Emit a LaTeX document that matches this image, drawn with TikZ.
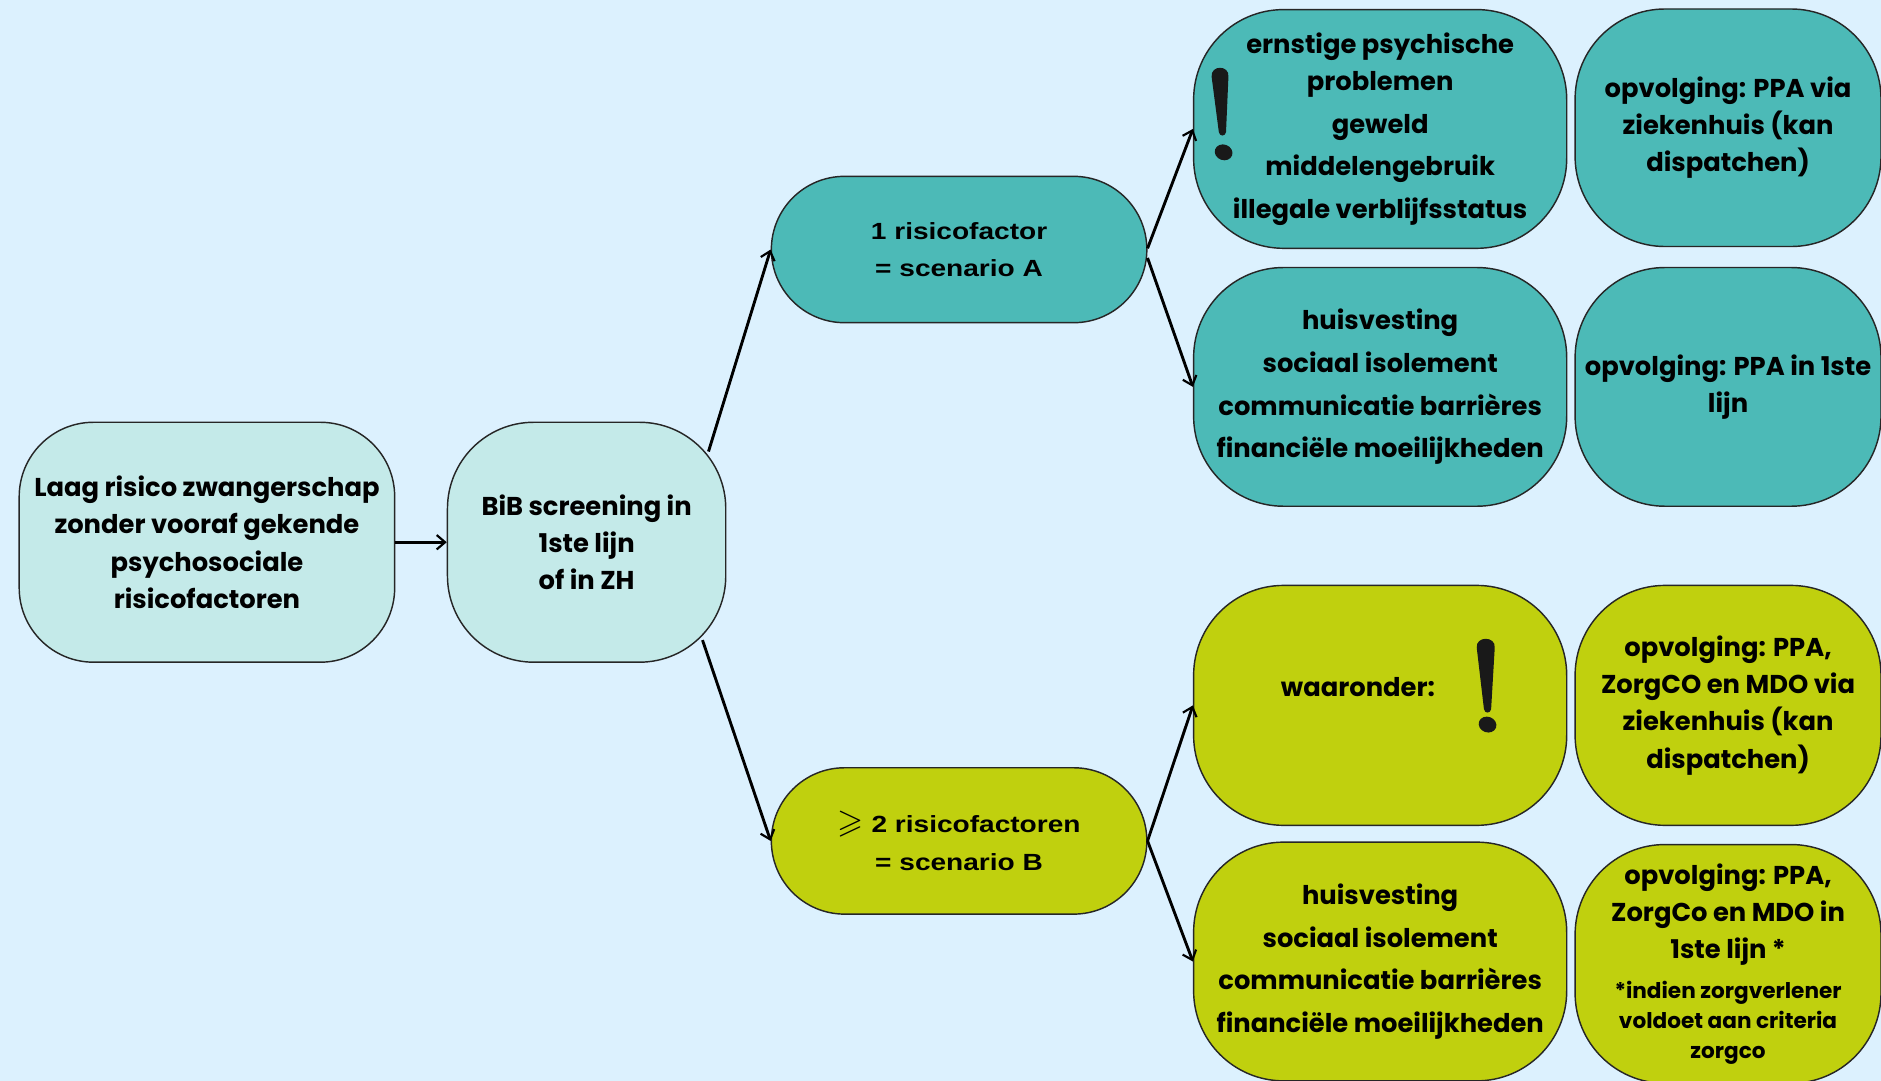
\documentclass[tikz,border=0pt]{standalone}
\usepackage{amsmath}
\usepackage{amssymb}
\usepackage{fontspec}
\setmainfont{Poppins}
\newfontfamily\pillfont[FakeStretch=1.2]{Liberation Sans}
\usetikzlibrary{arrows.meta,calc}
\definecolor{bgc}{RGB}{220,241,254}
\definecolor{lightc}{RGB}{196,234,233}
\definecolor{tealc}{RGB}{76,186,183}
\definecolor{limec}{RGB}{192,208,14}
\newcommand{\mainsz}{\fontsize{21.5}{31}\selectfont\bfseries}
\newcommand{\listsz}{\fontsize{21.5}{35.5}\selectfont\bfseries}
\newcommand{\pillsz}{\pillfont\fontsize{19.5}{31}\selectfont\bfseries}
\begin{document}
\begin{tikzpicture}[x=1pt,y=-1pt,
  box/.style={draw=black!85, line width=1.2pt, rounded corners=#1, align=center, inner sep=0pt},
  box/.default=75pt,
  arr/.style={line width=2.4pt, -{Straight Barb[length=7pt,width=12pt,line width=1.8pt]}},
  exclfill/.style={fill=black!90}]
\useasboundingbox[fill=bgc] (0,0) rectangle (1568,901);
% left
\node[box=62pt, fill=lightc, minimum width=313pt, minimum height=200pt, font=\mainsz] (start) at (172.5,452)
  {Laag risico zwangerschap\\zonder vooraf gekende\\psychosociale\\risicofactoren};
\node[box=72pt, fill=lightc, minimum width=232pt, minimum height=200pt, font=\mainsz] (bib) at (489,452)
  {BiB screening in\\1ste lijn\\of in ZH};
% pills
\node[box=61pt, fill=tealc, minimum width=313pt, minimum height=122pt, font=\pillsz] (pa) at (799.5,208)
  {1 risicofactor\\= scenario A};
\node[box=61pt, fill=limec, minimum width=313pt, minimum height=122pt, font=\pillsz] (pb) at (799.5,701)
  {{\fontsize{28}{31}\selectfont$\boldsymbol{\geqslant}$} 2 risicofactoren\\= scenario B};
% scenario A
\node[box, fill=tealc, minimum width=311pt, minimum height=199pt, font=\listsz] (a1) at (1150.5,107.5)
  {ernstige psychische\\[-4.5pt]problemen\\geweld\\middelengebruik\\illegale verblijfsstatus};
\node[box, fill=tealc, minimum width=311pt, minimum height=199pt, font=\listsz] (a2) at (1150.5,322.5)
  {huisvesting\\sociaal isolement\\communicatie barrières\\financiële moeilijkheden};
\node[box, fill=tealc, minimum width=255pt, minimum height=198pt, font=\mainsz] (a3) at (1440.5,106.5)
  {opvolging: PPA via\\ziekenhuis (kan\\dispatchen)};
\node[box, fill=tealc, minimum width=255pt, minimum height=199pt, font=\mainsz] (a4) at (1440.5,322.5)
  {opvolging: PPA in 1ste\\lijn};
% scenario B
\node[box, fill=limec, minimum width=311pt, minimum height=200pt] (b1) at (1150.5,588) {};
\node[font=\mainsz] (b1t) at (1132,573) {waaronder:};
\node[box, fill=limec, minimum width=311pt, minimum height=199pt, font=\listsz] (b2) at (1150.5,801.5)
  {huisvesting\\sociaal isolement\\communicatie barrières\\financiële moeilijkheden};
\node[box, fill=limec, minimum width=255pt, minimum height=200pt, font=\mainsz] (b3) at (1440.5,588)
  {opvolging: PPA,\\ZorgCO en MDO via\\ziekenhuis (kan\\dispatchen)};
\node[box, fill=limec, minimum width=255pt, minimum height=199pt] (b4) at (1440.5,803.5)
  {\parbox{252pt}{\centering\mainsz opvolging: PPA,\\ZorgCo en MDO in\\1ste lijn *\par\vspace{8pt}
   \fontsize{18}{25}\selectfont\bfseries *indien zorgverlener\\voldoet aan criteria\\zorgco\par}};
% connectors
\draw[arr] (start.east) -- (bib.west);
\draw[arr] ($(bib.north east)+(-15,25)$) -- (pa.west);
\draw[arr] ($(bib.south east)+(-20,-19)$) -- (pb.west);
\draw[arr] ($(pa.east)+(0,-1)$) -- (a1.west);
\draw[arr] ($(pa.east)+(0,7)$) -- (a2.west);
\draw[arr] (pb.east) -- (b1.west);
\draw[arr] (pb.east) -- (b2.west);
% exclamation marks
\fill[exclfill] (1010,64) .. controls (1009,54) and (1025,54) .. (1024,64)
  -- (1022,110) .. controls (1021.5,114) and (1016.5,114) .. (1016,110) -- cycle;
\fill[exclfill, rotate around={-20:(1020,127)}] (1020,127) ellipse [x radius=7.5, y radius=6.5];
\fill[exclfill] (1231,540) .. controls (1230,530) and (1247,530) .. (1246,540)
  -- (1243,591) .. controls (1242.5,595) and (1237.5,595) .. (1237,591) -- cycle;
\fill[exclfill, rotate around={-20:(1240,604)}] (1240,604) ellipse [x radius=7.5, y radius=6.5];
\end{tikzpicture}
\end{document}
